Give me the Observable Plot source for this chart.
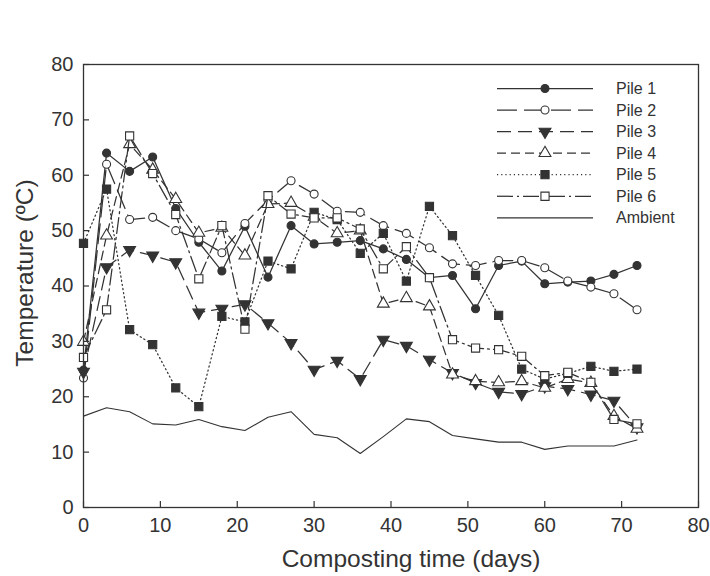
<!DOCTYPE html>
<html>
<head>
<meta charset="utf-8">
<script src="https://cdn.jsdelivr.net/npm/d3@7"></script>
<script src="https://cdn.jsdelivr.net/npm/@observablehq/plot@0.6"></script>
<style>
  body { margin: 0; background: #fff; }
  #chart { width: 710px; height: 576px; }
</style>
</head>
<body>
<div id="chart"></div>
<script>
// ---- data ----
const days = [0, 3, 6, 9, 12, 15, 18, 21, 24, 27, 30, 33, 36, 39, 42, 45, 48, 51, 54, 57, 60, 63, 66, 69, 72];
const pile1 = [24.8, 64.0, 60.7, 63.3, 54.0, 47.9, 42.7, 50.8, 41.6, 50.9, 47.6, 47.9, 48.2, 46.7, 44.8, 41.5, 41.9, 35.9, 43.7, 44.5, 40.4, 40.7, 40.9, 42.1, 43.7];
const pile2 = [23.4, 62.0, 52.0, 52.4, 50.0, 48.5, 46.0, 51.3, 55.5, 59.0, 56.6, 53.5, 53.3, 50.9, 49.5, 46.9, 44.0, 43.7, 44.6, 44.6, 43.3, 40.9, 39.8, 38.6, 35.7];
const pile3 = [24.5, 43.4, 46.5, 45.5, 44.3, 35.2, 35.9, 36.7, 33.3, 29.7, 24.9, 26.5, 23.2, 30.3, 29.2, 26.7, 24.3, 22.5, 20.9, 20.5, 21.9, 21.4, 20.4, 19.3, 14.5];
const pile4 = [29.9, 49.1, 65.6, 61.0, 55.7, 49.6, 50.5, 45.5, 54.8, 55.0, 52.5, 49.5, 50.0, 36.8, 37.8, 36.3, 24.0, 22.8, 22.6, 22.8, 21.6, 23.2, 22.5, 16.5, 14.2];
const pile5 = [47.7, 57.5, 32.1, 29.4, 21.6, 18.2, 34.5, 33.5, 44.5, 43.1, 53.3, 52.0, 45.9, 49.5, 40.9, 54.4, 49.1, 41.9, 34.7, 25.0, 23.2, 24.2, 25.5, 24.6, 25.0];
const pile6 = [27.1, 35.7, 67.1, 60.3, 52.9, 41.3, 50.9, 32.2, 56.3, 53.0, 52.3, 52.3, 50.3, 43.1, 47.1, 41.5, 30.3, 28.8, 28.5, 27.3, 23.8, 24.4, 22.6, 15.9, 15.1];
const ambient = [16.5, 18.0, 17.3, 15.1, 14.9, 15.9, 14.6, 13.9, 16.3, 17.3, 13.2, 12.6, 9.75, 12.8, 16.0, 15.5, 13.0, 12.4, 11.8, 11.8, 10.5, 11.1, 11.1, 11.1, 12.2];
const seriesNames = ["Pile 1", "Pile 2", "Pile 3", "Pile 4", "Pile 5", "Pile 6", "Ambient"];
const xTicks = [0, 10, 20, 30, 40, 50, 60, 70, 80];
const yTicks = [0, 10, 20, 30, 40, 50, 60, 70, 80];
const xLabel = "Composting time (days)";
const yLabel = "Temperature (ºC)";

// ---- styles ----
const INK = "#333333";
const FONT = "'Liberation Sans', Arial, Helvetica, sans-serif";
const triangleDown = {
  draw(context, size) {
    const y = -Math.sqrt(size / (Math.sqrt(3) * 3));
    context.moveTo(0, -y * 2);
    context.lineTo(-Math.sqrt(3) * y, y);
    context.lineTo(Math.sqrt(3) * y, y);
    context.closePath();
  }
};
const styles = {
  "Pile 1": {values: pile1, symbol: "circle", fill: INK, dash: null, r: 4},
  "Pile 2": {values: pile2, symbol: "circle", fill: "white", dash: "20,7", r: 4},
  "Pile 3": {values: pile3, symbol: triangleDown, fill: INK, dash: "14,7", r: 4.4},
  "Pile 4": {values: pile4, symbol: "triangle", fill: "white", dash: "9,5", r: 4.4},
  "Pile 5": {values: pile5, symbol: "square", fill: INK, dash: "1.2,3", r: 4.6},
  "Pile 6": {values: pile6, symbol: "square", fill: "white", dash: "16,4,2,4", r: 4.6},
  "Ambient": {values: ambient, symbol: null, fill: null, dash: null, r: 0}
};

const rows = seriesNames.flatMap(name => styles[name].values.map((v, i) => ({name, day: days[i], temp: v})));

const marks = [];
for (const name of ["Ambient", "Pile 1", "Pile 2", "Pile 3", "Pile 4", "Pile 5", "Pile 6"]) {
  const s = styles[name];
  const data = rows.filter(d => d.name === name);
  marks.push(Plot.line(data, {x: "day", y: "temp", stroke: INK, strokeWidth: name === "Ambient" ? 1.1 : 1.25, strokeDasharray: s.dash}));
  if (s.symbol) {
    marks.push(Plot.dot(data, {x: "day", y: "temp", symbol: s.symbol, r: s.r, fill: s.fill, stroke: INK, strokeWidth: 1.1}));
  }
}

const chart = Plot.plot({
  width: 710,
  height: 576,
  marginLeft: 83,
  marginRight: 12,
  marginTop: 64,
  marginBottom: 69,
  style: {fontFamily: FONT, background: "white", color: INK},
  x: {domain: [0, 80], axis: null},
  y: {domain: [0, 80], axis: null},
  marks: [
    ...marks,
    Plot.frame({stroke: INK, strokeWidth: 1.3}),
    Plot.axisX({ticks: xTicks, tickSize: -6, fill: "none", stroke: INK, strokeWidth: 1.2, label: null}),
    Plot.axisY({ticks: yTicks, tickSize: -6, fill: "none", stroke: INK, strokeWidth: 1.2, label: null}),
    Plot.axisX({ticks: xTicks, tickSize: 0, tickPadding: 10, fontSize: 20, fill: INK, label: null}),
    Plot.axisY({ticks: yTicks, tickSize: 0, tickPadding: 10, fontSize: 20, fill: INK, label: null}),
    Plot.text([{t: xLabel}], {text: "t", frameAnchor: "bottom", dx: 20, dy: 52, fontSize: 24.5, fill: INK, lineAnchor: "middle", textAnchor: "middle"}),
    Plot.text([{t: yLabel}], {text: "t", frameAnchor: "left", rotate: -90, dx: -58, dy: -13, fontSize: 24.5, fill: INK, lineAnchor: "middle", textAnchor: "middle"})
  ]
});
document.getElementById("chart").appendChild(chart);

// ---- legend ----
const svg = d3.select(chart);
const lg = svg.append("g").attr("font-family", FONT).attr("text-anchor", "start");
seriesNames.forEach((name, i) => {
  const s = styles[name];
  const y = 88.5 + i * 21.55;
  lg.append("line")
    .attr("x1", 497).attr("x2", 593).attr("y1", y).attr("y2", y)
    .attr("stroke", INK).attr("stroke-width", 1.25)
    .attr("stroke-dasharray", s.dash);
  if (s.symbol) {
    const sym = typeof s.symbol === "string"
      ? {circle: d3.symbolCircle, square: d3.symbolSquare, triangle: d3.symbolTriangle}[s.symbol]
      : s.symbol;
    lg.append("path")
      .attr("d", d3.symbol(sym, s.r * s.r * Math.PI)())
      .attr("transform", `translate(545,${y})`)
      .attr("fill", s.fill).attr("stroke", INK).attr("stroke-width", 1.1);
  }
  lg.append("text")
    .attr("x", 616).attr("y", y).attr("dy", "0.35em")
    .attr("text-anchor", "start")
    .attr("font-size", 16).attr("fill", INK)
    .text(name);
});
</script>
</body>
</html>
